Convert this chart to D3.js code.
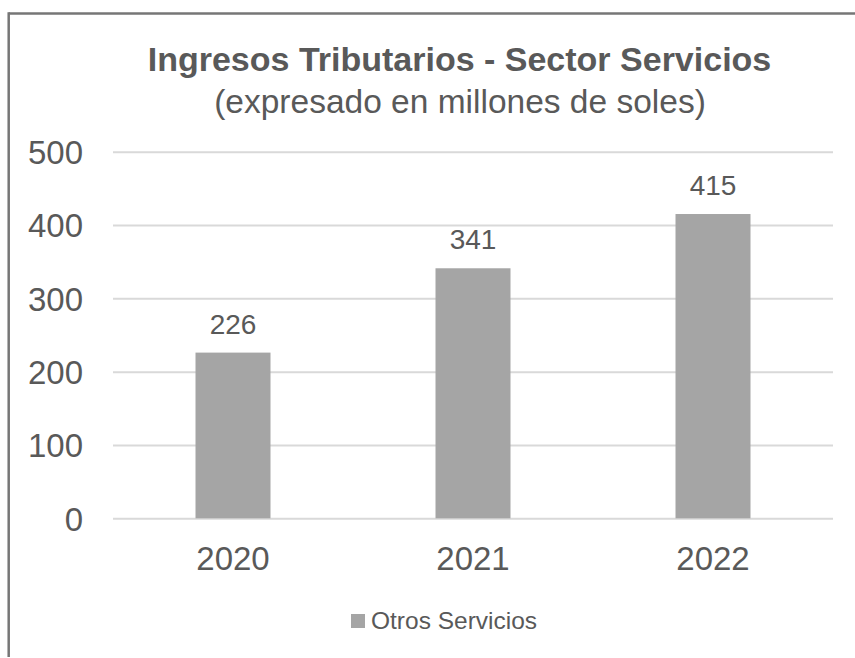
<!DOCTYPE html>
<html>
<head>
<meta charset="utf-8">
<script src="https://cdn.jsdelivr.net/npm/d3@7/dist/d3.min.js"></script>
<style>
  html, body { margin: 0; padding: 0; background: #ffffff; }
  svg { display: block; }
  text { font-family: "Liberation Sans", Arial, sans-serif; fill: #595959; }
</style>
</head>
<body>
<svg id="chart" width="855" height="658"></svg>
<script>
// Chart data
const years = ["2020", "2021", "2022"];
const ingresos = [226, 341, 415];
const yTicks = [0, 100, 200, 300, 400, 500];
const seriesName = "Otros Servicios";
const titleText = "Ingresos Tributarios - Sector Servicios";
const subtitleText = "(expresado en millones de soles)";

const W = 855, H = 658;
const plot = { left: 113, right: 833, top: 151.7, bottom: 518.3 };
const barColor = "#a5a5a5";
const gridColor = "#d9d9d9";
const textColor = "#595959";

const svg = d3.select("#chart");

// Frame (top and left edges)
svg.append("line")
  .attr("x1", 8.7).attr("x2", W).attr("y1", 13.5).attr("y2", 13.5)
  .attr("stroke", "#767676").attr("stroke-width", 2.5);
svg.append("line")
  .attr("x1", 8.7).attr("x2", 8.7).attr("y1", 12.3).attr("y2", 657)
  .attr("stroke", "#767676").attr("stroke-width", 2.5);

// Scales
const x = d3.scaleBand()
  .domain(years)
  .range([plot.left, plot.right])
  .paddingInner(0.6875)
  .paddingOuter(0.34375);

const y = d3.scaleLinear()
  .domain([0, 500])
  .range([plot.bottom, plot.top]);

// Y axis with gridlines
const yAxis = d3.axisLeft(y)
  .tickValues(yTicks)
  .tickSizeInner(-(plot.right - plot.left))
  .tickSizeOuter(0)
  .tickPadding(30);

const gy = svg.append("g")
  .attr("transform", `translate(${plot.left},0)`)
  .call(yAxis);
gy.select(".domain").remove();
gy.selectAll(".tick line").attr("stroke", gridColor).attr("stroke-width", 2);
gy.selectAll(".tick text")
  .attr("fill", textColor)
  .style("font-size", "33px")
  .attr("dy", "0.36em");

// Bars
svg.append("g")
  .selectAll("rect")
  .data(years.map((d, i) => ({ year: d, value: ingresos[i] })))
  .join("rect")
  .attr("x", d => x(d.year))
  .attr("width", x.bandwidth())
  .attr("y", d => y(d.value))
  .attr("height", d => y(0) - y(d.value))
  .attr("fill", barColor);

// Value labels
svg.append("g")
  .selectAll("text")
  .data(years.map((d, i) => ({ year: d, value: ingresos[i] })))
  .join("text")
  .attr("x", d => x(d.year) + x.bandwidth() / 2)
  .attr("y", d => y(d.value) - 19)
  .attr("text-anchor", "middle")
  .style("font-size", "28px")
  .text(d => d.value);

// X axis labels
const xAxis = d3.axisBottom(x).tickSize(0).tickPadding(28);
const gx = svg.append("g")
  .attr("transform", `translate(0,${plot.bottom})`)
  .call(xAxis);
gx.select(".domain").remove();
gx.selectAll(".tick text")
  .attr("fill", textColor)
  .style("font-size", "33px");

// Title
svg.append("text")
  .attr("x", 459.5).attr("y", 71)
  .attr("text-anchor", "middle")
  .style("font-size", "34px")
  .style("font-weight", "bold")
  .text(titleText);
svg.append("text")
  .attr("x", 460).attr("y", 113)
  .attr("text-anchor", "middle")
  .style("font-size", "33.5px")
  .text(subtitleText);

// Legend
const legend = svg.append("g").attr("transform", "translate(351,614)");
legend.append("rect")
  .attr("width", 14).attr("height", 14)
  .attr("fill", barColor);
legend.append("text")
  .attr("x", 20).attr("y", 15)
  .style("font-size", "24.5px")
  .text(seriesName);
</script>
</body>
</html>
